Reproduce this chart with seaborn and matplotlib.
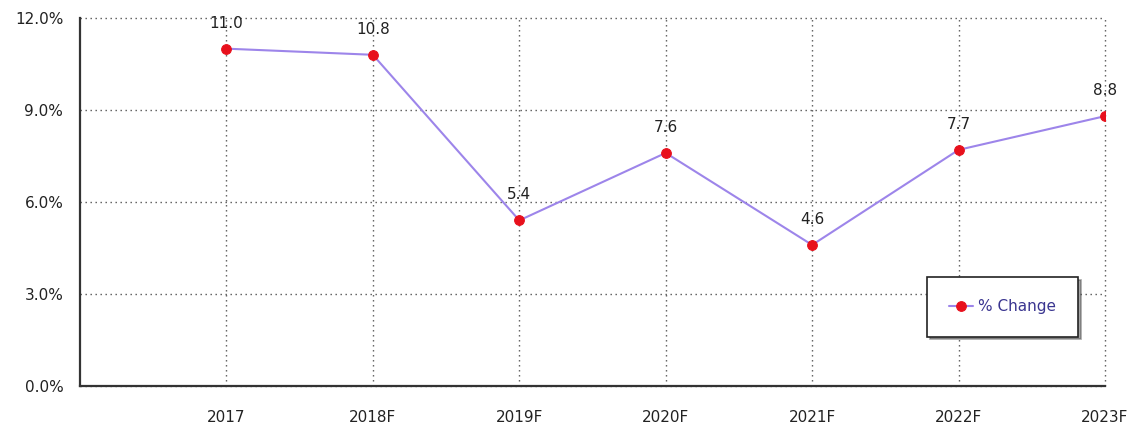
import matplotlib
matplotlib.use("Agg")
import matplotlib.pyplot as plt
import seaborn as sns
import pandas as pd
from matplotlib.ticker import FuncFormatter, MultipleLocator

years = ["2017", "2018F", "2019F", "2020F", "2021F", "2022F", "2023F"]
pct_change = [11.0, 10.8, 5.4, 7.6, 4.6, 7.7, 8.8]
series_name = "% Change"

sns.set_style("white")
plt.rcParams['font.family'] = ['DejaVu Sans']

df = pd.DataFrame({"year": years, "value": pct_change})

fig = plt.figure(figsize=(11.37, 4.25), dpi=100)
ax = fig.add_axes([80/1137, 1-386/425, 1025/1137, 368/425])

sns.lineplot(data=df, x="year", y="value", ax=ax, color="#9d85ea", linewidth=1.5,
             marker="o", markersize=7, markerfacecolor="#e8101c", markeredgecolor="#e8101c",
             label=series_name, sort=False)

for i, v in enumerate(pct_change):
    ax.annotate(f"{v:.1f}", (i, v), xytext=(0, 13), textcoords="offset points",
                ha="center", va="bottom", fontsize=11, color="#222222")

ax.set_xlim(-1, len(years) - 1)
ax.set_ylim(0, 12)
ax.yaxis.set_major_locator(MultipleLocator(3))
ax.yaxis.set_major_formatter(FuncFormatter(lambda y, p: f"{y:.1f}%"))
ax.set_xticks(range(len(years)))
ax.set_xticklabels(years)
ax.set_xlabel("")
ax.set_ylabel("")

ax.grid(True, which="major", color="#555555", linestyle=(0, (1, 2.6)), linewidth=1)
ax.set_axisbelow(True)
for gl in ax.get_xgridlines() + ax.get_ygridlines():
    gl.set_clip_on(False)
for s in ["top", "right"]:
    ax.spines[s].set_visible(False)
ax.spines["left"].set_color("#333333")
ax.spines["left"].set_linewidth(1.6)
ax.spines["bottom"].set_color("#333333")
ax.spines["bottom"].set_linewidth(1.6)
ax.tick_params(axis="both", labelsize=11, labelcolor="#222222")
ax.tick_params(axis="x", length=5, width=1, color="#888888", pad=12)
ax.tick_params(axis="y", length=0, pad=12)

leg = ax.legend(loc="center", bbox_to_anchor=(0.9, 0.215), frameon=True, fancybox=False,
                shadow=True, fontsize=11, borderpad=1.45, handlelength=1.6,
                handletextpad=0.3, borderaxespad=0, labelcolor="#3a3590")
leg.get_frame().set_edgecolor("#222222")
leg.get_frame().set_linewidth(1.2)

fig.savefig("out.png", dpi=100)
